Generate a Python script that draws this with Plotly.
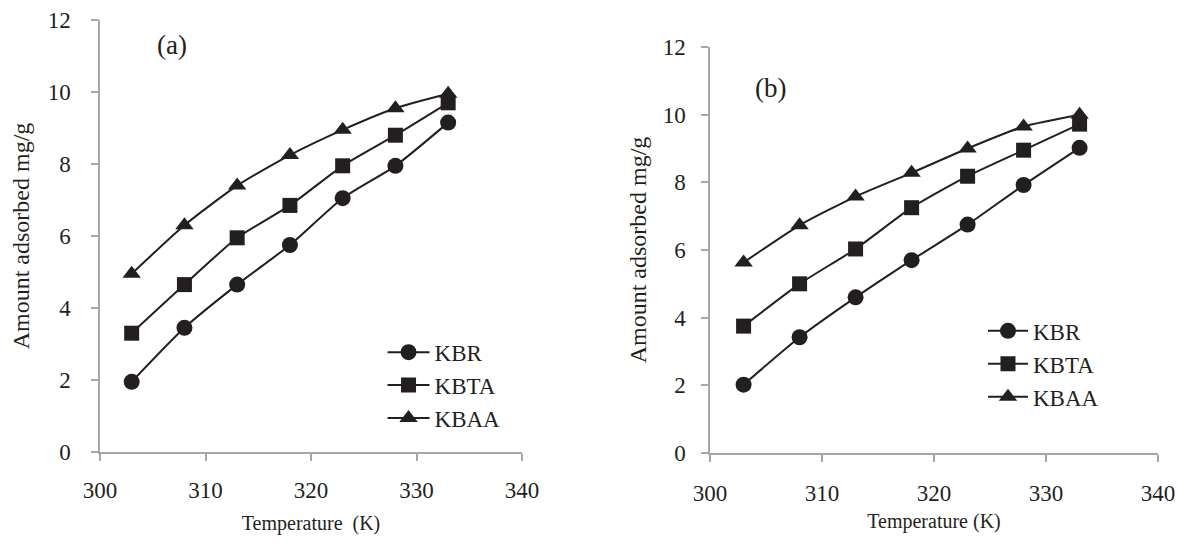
import plotly.graph_objects as go

temperature = [303, 308, 313, 318, 323, 328, 333]

a_kbr = [1.95, 3.45, 4.65, 5.75, 7.05, 7.95, 9.15]
a_kbta = [3.3, 4.65, 5.95, 6.85, 7.95, 8.8, 9.7]
a_kbaa = [4.95, 6.3, 7.4, 8.25, 8.95, 9.55, 9.95]

b_kbr = [2.02, 3.42, 4.6, 5.7, 6.75, 7.92, 9.02]
b_kbta = [3.75, 5.0, 6.03, 7.25, 8.18, 8.95, 9.72]
b_kbaa = [5.63, 6.73, 7.58, 8.28, 9.0, 9.65, 10.0]

series_names = ["KBR", "KBTA", "KBAA"]
symbols = ["circle", "square", "triangle-up"]
x_ticks = [300, 310, 320, 330, 340]
y_ticks = [0, 2, 4, 6, 8, 10, 12]

INK = "#231f20"
AXIS = "#a6a6a6"
FONT = "Liberation Serif"

fig = go.Figure()

panels = [
    ([a_kbr, a_kbta, a_kbaa], "x", "y", "legend"),
    ([b_kbr, b_kbta, b_kbaa], "x2", "y2", "legend2"),
]
sizes = {"circle": 16, "square": 15, "triangle-up": 16}
for data, xa, ya, leg in panels:
    for name, sym, vals in zip(series_names, symbols, data):
        fig.add_trace(go.Scatter(
            x=temperature, y=vals, name=name, mode="lines+markers",
            xaxis=xa, yaxis=ya, legend=leg,
            line=dict(color=INK, width=2, shape="spline", smoothing=0.6),
            marker=dict(symbol=sym, size=sizes[sym], color=INK),
        ))

axis_common = dict(
    showline=True, linecolor=AXIS, linewidth=1.5, ticks="outside", tickcolor=AXIS,
    ticklen=7, tickwidth=1.5, showgrid=False, zeroline=False, automargin=False,
    tickfont=dict(family=FONT, size=23, color=INK),
)

xtitle_font = dict(family=FONT, size=20, color=INK)
ytitle_font = dict(family=FONT, size=24, color=INK)

fig.update_layout(
    template="none",
    width=1189, height=546,
    margin=dict(l=0, r=0, t=0, b=0),
    paper_bgcolor="white", plot_bgcolor="white",
    font=dict(family=FONT, color=INK),
    xaxis=dict(domain=[0.0774, 0.4323], range=[300, 340], tickvals=x_ticks,
               ticklabelstandoff=10, anchor="y",
               title=dict(text="Temperature  (K)", font=xtitle_font, standoff=14),
               **axis_common),
    yaxis=dict(domain=[0.1868, 0.978], range=[0, 12], tickvals=y_ticks,
               ticklabelstandoff=16, anchor="x",
               title=dict(text="Amount adsorbed mg/g", font=ytitle_font, standoff=15),
               **axis_common),
    xaxis2=dict(domain=[0.5904, 0.9672], range=[300, 340], tickvals=x_ticks,
                ticklabelstandoff=12, anchor="y2",
                title=dict(text="Temperature (K)", font=xtitle_font, standoff=9),
                **axis_common),
    yaxis2=dict(domain=[0.185, 0.9286], range=[0, 12], tickvals=y_ticks,
                ticklabelstandoff=11, anchor="x2",
                title=dict(text="Amount adsorbed mg/g", font=ytitle_font, standoff=9),
                **axis_common),
    legend=dict(x=0.315, y=0.409, xanchor="left", yanchor="top",
                font=dict(family=FONT, size=23, color=INK), bgcolor="rgba(0,0,0,0)",
                tracegroupgap=0, itemwidth=42),
    legend2=dict(x=0.82, y=0.448, xanchor="left", yanchor="top",
                 font=dict(family=FONT, size=23, color=INK), bgcolor="rgba(0,0,0,0)",
                 tracegroupgap=0, itemwidth=40),
    annotations=[
        dict(text="(a)", xref="paper", yref="paper", x=147 / 1189, y=1 - 20 / 546,
             showarrow=False, font=dict(family=FONT, size=27, color=INK)),
        dict(text="(b)", xref="paper", yref="paper", x=762 / 1189, y=1 - 63 / 546,
             showarrow=False, font=dict(family=FONT, size=27, color=INK)),
    ],
)

fig.write_html("out.html")
